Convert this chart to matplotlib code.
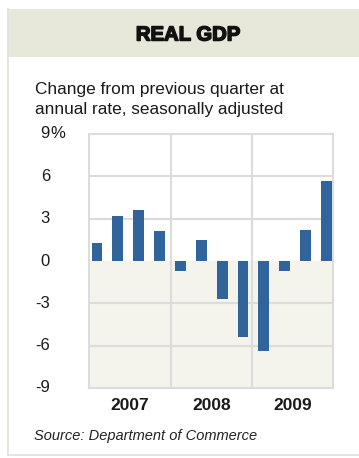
import matplotlib
matplotlib.use("Agg")
import matplotlib.pyplot as plt
import matplotlib.patheffects as pe
from matplotlib.patches import Rectangle
from matplotlib.lines import Line2D

# quarterly change in real GDP, annual rate (%)
years = ['2007', '2008', '2009']
gdp = [1.3, 3.2, 3.6, 2.1,
       -0.7, 1.5, -2.7, -5.4,
       -6.4, -0.7, 2.2, 5.7]
yticks = [9, 6, 3, 0, -3, -6, -9]

W, H = 359, 458
plt.rcParams['font.family'] = ['Liberation Sans', 'DejaVu Sans']
fig = plt.figure(figsize=(W / 100, H / 100), dpi=100)
fig.patch.set_facecolor('white')

def fx(px):
    return px / W

def fy(py):
    return 1 - py / H

# panel frame and header band
fig.add_artist(Line2D([fx(7.5), fx(7.5)], [fy(9), fy(455)], color='#e2e2dc', lw=1.2))
fig.add_artist(Line2D([fx(7.5), fx(359)], [fy(455), fy(455)], color='#e2e2dc', lw=1.2))
fig.add_artist(Rectangle((fx(7), fy(57)), fx(359) - fx(7), fy(9) - fy(57),
                         transform=fig.transFigure, facecolor='#e7e8da', edgecolor='none'))
fig.text(fx(188), fy(35), 'REAL GDP', ha='center', va='center', fontsize=14.6,
         fontweight='bold', color='#111111',
         path_effects=[pe.Stroke(linewidth=1.1, foreground='#111111'), pe.Normal()])

fig.text(fx(35), fy(94), 'Change from previous quarter at', fontsize=12.4, color='#1a1a1a',
         va='baseline')
fig.text(fx(35), fy(114), 'annual rate, seasonally adjusted', fontsize=12.4, color='#1a1a1a',
         va='baseline')

ax = fig.add_axes([fx(89), fy(388), fx(333) - fx(89), fy(134) - fy(388)])
ax.set_xlim(-0.38, 11.31)
ax.set_ylim(-9, 9)
ax.axhspan(-9, 0, color='#f4f4ec', zorder=0)

grid_c = '#dcdcdc'
for v in [3, 6, -3, -6]:
    ax.axhline(v, color=grid_c, lw=1.5, zorder=1)
bounds = [-0.38, 3.55, 7.43, 11.31]
for b in bounds[1:-1]:
    ax.axvline(b, color=grid_c, lw=1.5, zorder=1)
for s in ax.spines.values():
    s.set_color(grid_c)
    s.set_linewidth(1.5)

ax.bar(range(len(gdp)), gdp, width=0.52, color='#31649a', zorder=3)

ax.set_xticks([])
ax.set_yticks([])
for t in yticks:
    ax.text(-0.38 - 39 / 20.86, t, str(t), ha='right', va='center', fontsize=12,
            color='#1a1a1a')
ax.text(-0.38 - 39 / 20.86, 9, '%', ha='left', va='center', fontsize=12, color='#1a1a1a')

for i, yr in enumerate(years):
    ax.text((bounds[i] + bounds[i + 1]) / 2, -9 - 17 / 14.1, yr, ha='center', va='center',
            fontsize=12.5, fontweight='bold', color='#1a1a1a')

fig.text(fx(34), fy(436), 'Source: Department of Commerce', fontsize=10.5, style='italic',
         color='#222222', va='center')

fig.savefig('out.png', dpi=100)
